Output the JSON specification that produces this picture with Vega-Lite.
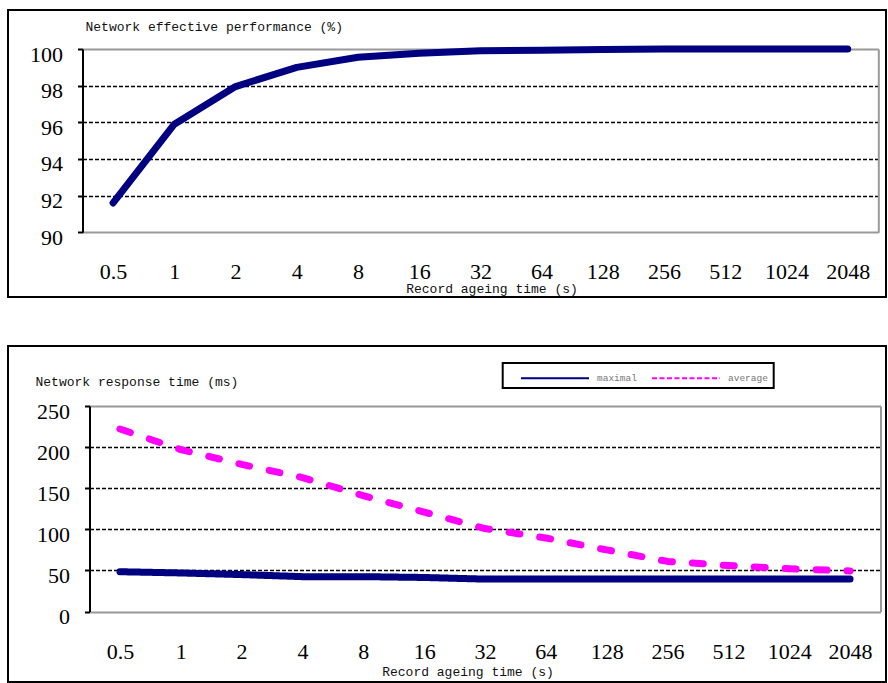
{
  "$schema": "https://vega.github.io/schema/vega-lite/v6.json",
  "padding": {"left": 7, "top": 9, "right": 0, "bottom": 0},
  "background": "white",
  "spacing": 47,
  "config": {
    "view": {"stroke": "black", "strokeWidth": 2},
    "axis": {
      "labelFont": "Liberation Serif",
      "labelFontSize": 22,
      "labelColor": "black",
      "titleFont": "Liberation Mono",
      "titleFontSize": 13,
      "titleFontWeight": "normal",
      "titleColor": "#111111",
      "labelOverlap": false,
      "labelBound": false,
      "labelFlush": false
    }
  },
  "vconcat": [
    {
      "width": 878,
      "height": 287,
      "data": {
        "values": [
          {"t": 0.5, "value": 91.6},
          {"t": 1, "value": 95.9},
          {"t": 2, "value": 97.95},
          {"t": 4, "value": 99.0},
          {"t": 8, "value": 99.55},
          {"t": 16, "value": 99.77},
          {"t": 32, "value": 99.9},
          {"t": 64, "value": 99.93},
          {"t": 128, "value": 99.97},
          {"t": 256, "value": 100},
          {"t": 512, "value": 100},
          {"t": 1024, "value": 100},
          {"t": 2048, "value": 100}
        ]
      },
      "encoding": {
        "x": {
          "field": "t",
          "type": "ordinal",
          "scale": {"type": "point", "range": [74.5, 870.3], "padding": 0.5},
          "axis": {
            "orient": "bottom",
            "offset": -64.7,
            "title": "Record ageing time (s)",
            "domain": false,
            "ticks": false,
            "tickSize": 0,
            "grid": false,
            "labelAngle": 0,
            "labelBaseline": "middle",
            "labelPadding": 39,
            "titleX": 483.5,
            "titleY": 60.5,
            "titleAlign": "center",
            "titleBaseline": "alphabetic"
          }
        }
      },
      "layer": [
        {
          "mark": {"type": "line", "color": "#000080", "strokeWidth": 7, "strokeCap": "round", "strokeJoin": "round"},
          "encoding": {
            "y": {
              "field": "value",
              "type": "quantitative",
              "scale": {"domain": [90, 100], "range": [222.3, 39], "zero": false, "nice": false},
              "axis": {
                "orient": "left",
                "offset": -74.5,
                "values": [90, 92, 94, 96, 98, 100],
                "domainColor": "black",
                "domainWidth": 2,
                "tickColor": "black",
                "tickWidth": 2,
                "tickSize": 5,
                "labelPadding": 15,
                "labelOffset": 5,
                "labelBaseline": "middle",
                "grid": true,
                "gridColor": {"condition": {"test": "datum.value === 90 || datum.value === 100", "value": "#999999"}, "value": "black"},
                "gridDash": {"condition": {"test": "datum.value === 90 || datum.value === 100", "value": []}, "value": [4, 2]},
                "gridWidth": {"condition": {"test": "datum.value === 90 || datum.value === 100", "value": 2}, "value": 1.6},
                "title": "Network effective performance (%)",
                "titleAngle": 0,
                "titleX": 2.5,
                "titleY": 20,
                "titleAlign": "left",
                "titleBaseline": "alphabetic"
              }
            }
          }
        },
        {
          "mark": {"type": "line", "opacity": 0},
          "encoding": {
            "y": {
              "field": "value",
              "type": "quantitative",
              "scale": {"domain": [90, 100], "range": [222.3, 39], "zero": false, "nice": false},
              "axis": {
                "orient": "right",
                "offset": -7.7,
                "domainColor": "#999999",
                "domainWidth": 2,
                "labels": false,
                "ticks": false,
                "grid": false,
                "title": null
              }
            }
          }
        }
      ],
      "resolve": {"axis": {"y": "independent"}}
    },
    {
      "width": 878,
      "height": 336,
      "data": {
        "values": [
          {"t": 0.5, "series": "maximal", "value": 48.5},
          {"t": 1, "series": "maximal", "value": 47},
          {"t": 2, "series": "maximal", "value": 45},
          {"t": 4, "series": "maximal", "value": 42.5},
          {"t": 8, "series": "maximal", "value": 42.5},
          {"t": 16, "series": "maximal", "value": 41.5},
          {"t": 32, "series": "maximal", "value": 39.5},
          {"t": 64, "series": "maximal", "value": 39.5},
          {"t": 128, "series": "maximal", "value": 39.5},
          {"t": 256, "series": "maximal", "value": 39.5},
          {"t": 512, "series": "maximal", "value": 39.5},
          {"t": 1024, "series": "maximal", "value": 39.5},
          {"t": 2048, "series": "maximal", "value": 39.5},
          {"t": 0.5, "series": "average", "value": 222},
          {"t": 1, "series": "average", "value": 197},
          {"t": 2, "series": "average", "value": 179},
          {"t": 4, "series": "average", "value": 163},
          {"t": 8, "series": "average", "value": 141},
          {"t": 16, "series": "average", "value": 121},
          {"t": 32, "series": "average", "value": 101},
          {"t": 64, "series": "average", "value": 89.5},
          {"t": 128, "series": "average", "value": 75},
          {"t": 256, "series": "average", "value": 61},
          {"t": 512, "series": "average", "value": 56},
          {"t": 1024, "series": "average", "value": 52},
          {"t": 2048, "series": "average", "value": 49.5}
        ]
      },
      "encoding": {
        "x": {
          "field": "t",
          "type": "ordinal",
          "scale": {"type": "point", "range": [81.5, 872.5], "padding": 0.5},
          "axis": {
            "orient": "bottom",
            "offset": -70.4,
            "title": "Record ageing time (s)",
            "domain": false,
            "ticks": false,
            "tickSize": 0,
            "grid": false,
            "labelAngle": 0,
            "labelBaseline": "middle",
            "labelPadding": 40,
            "titleX": 459.5,
            "titleY": 63.4,
            "titleAlign": "center",
            "titleBaseline": "alphabetic"
          }
        }
      },
      "layer": [
        {
          "mark": {"type": "line", "strokeWidth": 7, "strokeCap": "round", "strokeJoin": "round"},
          "encoding": {
            "y": {
              "field": "value",
              "type": "quantitative",
              "scale": {"domain": [0, 250], "range": [265.6, 60], "nice": false},
              "axis": {
                "orient": "left",
                "offset": -81.5,
                "values": [0, 50, 100, 150, 200, 250],
                "domainColor": "black",
                "domainWidth": 2,
                "tickColor": "black",
                "tickWidth": 2,
                "tickSize": 5,
                "labelPadding": 15,
                "labelOffset": 5,
                "labelBaseline": "middle",
                "grid": true,
                "gridColor": {"condition": {"test": "datum.value === 0 || datum.value === 250", "value": "#999999"}, "value": "black"},
                "gridDash": {"condition": {"test": "datum.value === 0 || datum.value === 250", "value": []}, "value": [4, 2]},
                "gridWidth": {"condition": {"test": "datum.value === 0 || datum.value === 250", "value": 2}, "value": 1.6},
                "title": "Network response time (ms)",
                "titleAngle": 0,
                "titleX": -54.5,
                "titleY": 39,
                "titleAlign": "left",
                "titleBaseline": "alphabetic"
              }
            },
            "color": {
              "field": "series",
              "type": "nominal",
              "scale": {"domain": ["maximal", "average"], "range": ["#000080", "#FF00FF"]},
              "legend": {
                "title": null,
                "orient": "none",
                "legendX": 494.7,
                "legendY": 353,
                "direction": "horizontal",
                "padding": 5,
                "strokeColor": "black",
                "symbolType": "M-1,0H6.556",
                "symbolSize": 324,
                "symbolStrokeWidth": 2,
                "symbolOffset": 12.3,
                "labelOffset": 57,
                "columnPadding": 1,
                "labelFont": "Liberation Mono",
                "labelFontSize": 9.5,
                "labelColor": "#777777",
                "labelBaseline": "middle",
                "encode": {
                  "legend": {"update": {"strokeWidth": {"value": 2}}},
                  "symbols": {"update": {"strokeDash": {"signal": "datum.value === 'average' ? [5, 2.5] : [1, 0]"}}}
                }
              }
            },
            "strokeDash": {
              "condition": {"test": "datum.series === 'average'", "value": [11, 20]},
              "value": [1, 0]
            }
          }
        },
        {
          "mark": {"type": "line", "opacity": 0},
          "encoding": {
            "detail": {"field": "series"},
            "y": {
              "field": "value",
              "type": "quantitative",
              "scale": {"domain": [0, 250], "range": [265.6, 60], "nice": false},
              "axis": {
                "orient": "right",
                "offset": -5.5,
                "domainColor": "#999999",
                "domainWidth": 2,
                "labels": false,
                "ticks": false,
                "grid": false,
                "title": null
              }
            }
          }
        }
      ],
      "resolve": {"axis": {"y": "independent"}}
    }
  ]
}
